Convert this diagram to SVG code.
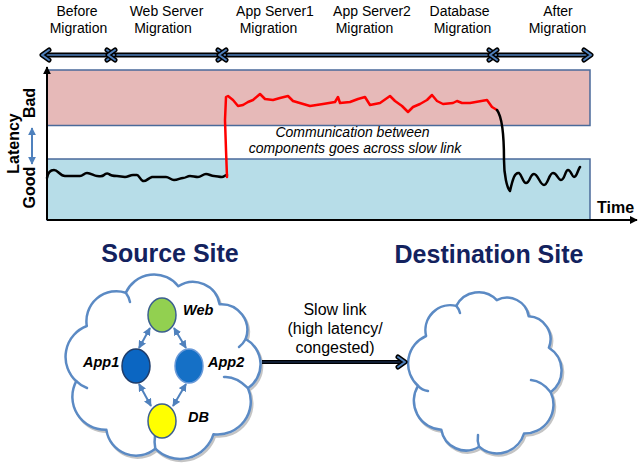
<svg xmlns="http://www.w3.org/2000/svg" xmlns:xlink="http://www.w3.org/1999/xlink" width="639" height="467" viewBox="0 0 639 467">
<defs>
<style>
.lbl{font-family:"Liberation Sans",Arial,sans-serif;font-size:14px;fill:#000}
.ital{font-family:"Liberation Sans",Arial,sans-serif;font-size:14px;font-style:italic;fill:#000}
.axl{font-family:"Liberation Sans",Arial,sans-serif;font-size:16px;font-weight:bold;fill:#000}
.title{font-family:"Liberation Sans",Arial,sans-serif;font-size:25px;font-weight:bold;fill:#13225e}
.node-lbl{font-family:"Liberation Sans",Arial,sans-serif;font-size:14.5px;font-weight:bold;font-style:italic;fill:#000}
.link-lbl{font-family:"Liberation Sans",Arial,sans-serif;font-size:16px;fill:#000}
.band{stroke:#4a6a9a;stroke-width:1.5}
.cloud{fill:#fff;stroke:#5b8ac4;stroke-width:2.5;stroke-linejoin:round}
.crease{fill:none;stroke:#5b8ac4;stroke-width:2.5;stroke-linecap:round}
.shadow{fill:none;stroke:#8a8a8a;stroke-width:2.5;opacity:.5}
.wave{fill:none;stroke-width:2.5;stroke-linejoin:round;stroke-linecap:round}
.conn{stroke:#4f81bd;stroke-width:2;fill:none}
</style>
<marker id="ah" viewBox="0 0 10 10" refX="9" refY="5" markerWidth="4" markerHeight="4" orient="auto-start-reverse">
<path d="M0,0 L10,5 L0,10 z" fill="#4f81bd"/>
</marker>
<marker id="axh" viewBox="0 0 10 10" refX="9" refY="5" markerWidth="4" markerHeight="4" orient="auto-start-reverse">
<path d="M0,0 L10,5 L0,10 z" fill="#000"/>
</marker>
<g id="chev">
<polyline points="-7,-5 0,0 -7,5" fill="none" stroke="#000" stroke-width="5" stroke-linecap="round" stroke-linejoin="round"/>
<polyline points="-7,-5 0,0 -7,5" fill="none" stroke="#4f81bd" stroke-width="2" stroke-linecap="round" stroke-linejoin="round"/>
</g>
</defs>

<!-- Timeline -->
<g id="timeline">
<line x1="44" y1="55" x2="589" y2="55" stroke="#000" stroke-width="5"/>
<line x1="44" y1="55" x2="589" y2="55" stroke="#4f81bd" stroke-width="1.6"/>
<use xlink:href="#chev" transform="translate(42,55) scale(-1,1)"/>
<use xlink:href="#chev" transform="translate(114,55)"/>
<use xlink:href="#chev" transform="translate(108,55) scale(-1,1)"/>
<use xlink:href="#chev" transform="translate(225,55)"/>
<use xlink:href="#chev" transform="translate(219,55) scale(-1,1)"/>
<use xlink:href="#chev" transform="translate(496,55)"/>
<use xlink:href="#chev" transform="translate(490,55) scale(-1,1)"/>
<use xlink:href="#chev" transform="translate(591,55)"/>
</g>
<g id="phase-labels">
<text class="lbl" x="77" y="16" text-anchor="middle">Before</text>
<text class="lbl" x="78.5" y="33" text-anchor="middle">Migration</text>
<text class="lbl" x="166.5" y="16" text-anchor="middle">Web Server</text>
<text class="lbl" x="163" y="33" text-anchor="middle">Migration</text>
<text class="lbl" x="275" y="16" text-anchor="middle">App Server1</text>
<text class="lbl" x="268.5" y="33" text-anchor="middle">Migration</text>
<text class="lbl" x="372" y="16" text-anchor="middle">App Server2</text>
<text class="lbl" x="364.5" y="33" text-anchor="middle">Migration</text>
<text class="lbl" x="459.5" y="16" text-anchor="middle">Database</text>
<text class="lbl" x="462.5" y="33" text-anchor="middle">Migration</text>
<text class="lbl" x="558" y="16" text-anchor="middle">After</text>
<text class="lbl" x="557.5" y="33" text-anchor="middle">Migration</text>
</g>

<!-- Chart -->
<g id="chart">
<rect class="band" x="47" y="70" width="543" height="55.5" fill="#e6b9b8"/>
<rect class="band" x="47" y="159" width="543" height="61" fill="#b7dde8"/>
<line x1="47" y1="220" x2="47" y2="67" stroke="#000" stroke-width="2" marker-end="url(#axh)"/>
<line x1="47" y1="220" x2="637" y2="220" stroke="#000" stroke-width="2" marker-end="url(#axh)"/>
<text class="axl" x="597" y="213">Time</text>
<text class="axl" transform="translate(19,143.5) rotate(-90)" text-anchor="middle">Latency</text>
<text class="axl" transform="translate(35,187.5) rotate(-90)" text-anchor="middle">Good</text>
<text class="axl" transform="translate(35,103) rotate(-90)" text-anchor="middle">Bad</text>
<line x1="32" y1="128" x2="32" y2="164" class="conn" stroke-width="1.5" marker-start="url(#ah)" marker-end="url(#ah)"/>
<path class="wave" stroke="#000" d="M47,178 C48,172 51,170 54,170 C58,170 60,176 65,176 L80,176 C83,176 84,173 87,173 C91,173 94,176 97,176 C100,176 102,177 104,175 C106,173 107,173 109,174 C111,176 113,176 117,176 L125,177 C128,177 130,175 133,175 L137,175 C139,175 140,180 143,181 C146,182 148,178 152,177 L166,177 C169,177 171,180 174,180 C178,180 180,178 183,178 C186,178 187,176 190,176 C193,176 195,177 198,177 C201,177 203,174 206,174 C209,174 211,176 214,176 C217,176 219,177 222,177 C224,177 225,175 227,175"/>
<polyline class="wave" stroke="#ff0000" points="227,177 226,150 225,120 226,97 228,96 233,100 238,106 243,105 248,102 253,100 260,94 265,99 273,100 280,98 288,96 293,101 310,106 323,104 335,102 338,97 340,103 350,102 358,99 365,97 370,105 380,103 390,96 395,101 402,106 408,112 413,107 420,104 427,100 432,95 437,101 443,104 453,103 457,101 462,103 470,103 487,100 492,107 497,110"/>
<path class="wave" stroke="#000" d="M497,110 C503,118 504,140 504,160 C504,175 507,188 510,191 C513,178 515,172 519,173 C522,175 523,183 526,183 C530,183 530,174 534,174 C538,174 540,185 544,185 C548,185 549,173 553,173 C557,173 558,180 561,180 C565,180 565,170 568,170 C571,170 572,177 574,177 C577,177 578,169 580,167"/>
<text class="ital" x="352.5" y="137" text-anchor="middle">Communication between</text>
<text class="ital" x="355" y="153" text-anchor="middle">components goes across slow link</text>
</g>

<!-- Sites -->
<text class="title" x="170" y="262" text-anchor="middle">Source Site</text>
<text class="title" x="489" y="263" text-anchor="middle">Destination Site</text>

<g id="source-cloud">
<path class="shadow" transform="translate(1.5,2)" d="M86.8,326 A30,30 0 0 1 125.8,292.7 A31,31 0 0 1 178.3,286.2 A27,27 0 0 1 219.6,304.2 A26,26 0 0 1 245.7,339 A29,29 0 0 1 248,388.2 A33,33 0 0 1 213.5,434.2 A35,35 0 0 1 155.3,448.7 A30,30 0 0 1 106.4,429.8 A33,33 0 0 1 76.3,381.2 A33,33 0 0 1 86.8,326 Z"/>
<path class="cloud" d="M86.8,326 A30,30 0 0 1 125.8,292.7 A31,31 0 0 1 178.3,286.2 A27,27 0 0 1 219.6,304.2 A26,26 0 0 1 245.7,339 A29,29 0 0 1 248,388.2 A33,33 0 0 1 213.5,434.2 A35,35 0 0 1 155.3,448.7 A30,30 0 0 1 106.4,429.8 A33,33 0 0 1 76.3,381.2 A33,33 0 0 1 86.8,326 Z"/>
<path class="crease" d="M125.8,292.7 Q129,297 130,302"/>
<path class="crease" d="M245.7,339 Q243,344 239,347"/>
<path class="crease" d="M248,388.2 Q236,376 224,377"/>
<path class="crease" d="M155.3,448.7 Q154,442 155,436"/>
<path class="crease" d="M76.3,381.2 Q81,386 87,388"/>
</g>
<g id="destination-cloud">
<path class="shadow" transform="translate(1.5,2)" d="M426.1,336 A25,25 0 0 1 456.3,305.9 A25,25 0 0 1 496.8,300.1 A22,22 0 0 1 528.7,316.3 A23,23 0 0 1 548.9,347.7 A27,27 0 0 1 550.7,392.2 A29,29 0 0 1 524,433.6 A28,28 0 0 1 479.1,446.7 A25,25 0 0 1 441.3,429.7 A29,29 0 0 1 418,385.8 A30,30 0 0 1 426.1,336 Z"/>
<path class="cloud" d="M426.1,336 A25,25 0 0 1 456.3,305.9 A25,25 0 0 1 496.8,300.1 A22,22 0 0 1 528.7,316.3 A23,23 0 0 1 548.9,347.7 A27,27 0 0 1 550.7,392.2 A29,29 0 0 1 524,433.6 A28,28 0 0 1 479.1,446.7 A25,25 0 0 1 441.3,429.7 A29,29 0 0 1 418,385.8 A30,30 0 0 1 426.1,336 Z"/>
<path class="crease" d="M456.3,305.9 Q459,309 460,313"/>
<path class="crease" d="M550.7,392.2 Q542,381 531,380"/>
<path class="crease" d="M479.1,446.7 Q477,441 478,435"/>
<path class="crease" d="M418,385.8 Q422,390 428,391"/>
</g>

<!-- Connectors -->
<g id="connectors">
<line class="conn" x1="150" y1="328" x2="139" y2="348" marker-start="url(#ah)" marker-end="url(#ah)"/>
<line class="conn" x1="174" y1="328" x2="186" y2="348" marker-start="url(#ah)" marker-end="url(#ah)"/>
<line class="conn" x1="139" y1="384" x2="151" y2="406" marker-start="url(#ah)" marker-end="url(#ah)"/>
<line class="conn" x1="186" y1="384" x2="173" y2="406" marker-start="url(#ah)" marker-end="url(#ah)"/>
<g id="slow-link">
<line x1="262" y1="362" x2="403" y2="362" stroke="#000" stroke-width="4"/>
<line x1="262" y1="362" x2="402" y2="362" stroke="#1f3864" stroke-width="1"/>
<use xlink:href="#chev" transform="translate(405,362)"/>
</g>
<text class="link-lbl" x="335" y="315" text-anchor="middle">Slow link</text>
<text class="link-lbl" x="335" y="334" text-anchor="middle">(high latency/</text>
<text class="link-lbl" x="335" y="353" text-anchor="middle">congested)</text>
</g>

<!-- Nodes -->
<g id="node-web">
<ellipse cx="162" cy="315" rx="14" ry="17" fill="#92d050" stroke="#3b5f8f" stroke-width="1.5"/>
<text class="node-lbl" x="183" y="315">Web</text>
</g>
<g id="node-app1">
<ellipse cx="136" cy="366" rx="14" ry="17" fill="#0b66c2" stroke="#1f3d6b" stroke-width="1.5"/>
<text class="node-lbl" x="83" y="367">App1</text>
</g>
<g id="node-app2">
<ellipse cx="189" cy="366" rx="14" ry="17" fill="#1570c6" stroke="#6a9ad8" stroke-width="1.5"/>
<text class="node-lbl" x="208" y="367">App2</text>
</g>
<g id="node-db">
<ellipse cx="162" cy="421" rx="14" ry="17" fill="#ffff00" stroke="#3b5f8f" stroke-width="1.5"/>
<text class="node-lbl" x="188" y="422">DB</text>
</g>
</svg>
